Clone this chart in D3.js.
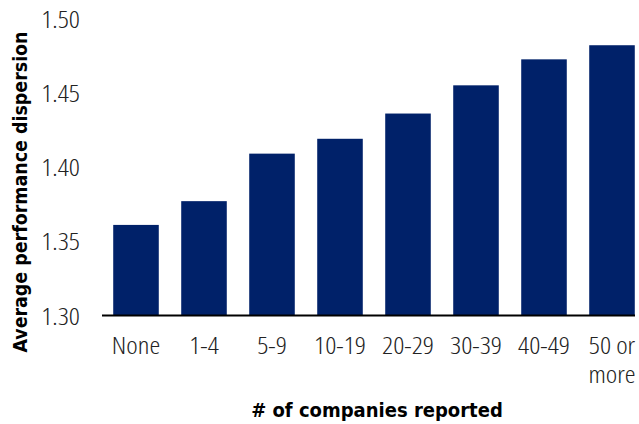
<!DOCTYPE html>
<html>
<head>
<meta charset="utf-8">
<script src="https://cdn.jsdelivr.net/npm/d3@7/dist/d3.min.js"></script>
<style>
  html, body { margin: 0; padding: 0; background: #fff; }
  svg { display: block; }
  .tick-label { font-family: "Open Sans", sans-serif; font-stretch: 75%; font-weight: 300; font-size: 24px; fill: #222; }
  .axis-title { font-family: "DejaVu Sans Condensed", "DejaVu Sans", sans-serif; font-size: 20px; font-weight: bold; fill: #000; }
</style>
</head>
<body>
<svg id="chart" width="639" height="424"></svg>
<script>
// Number of companies reported, grouped into buckets
const categories = ["None", "1-4", "5-9", "10-19", "20-29", "30-39", "40-49", "50 or more"];
const categoryLines = [["None"], ["1-4"], ["5-9"], ["10-19"], ["20-29"], ["30-39"], ["40-49"], ["50 or", "more"]];
// Average performance dispersion per bucket
const dispersion = [1.361, 1.377, 1.409, 1.419, 1.436, 1.455, 1.4725, 1.482];
const yTicks = [1.30, 1.35, 1.40, 1.45, 1.50];

const svg = d3.select("#chart");
const plotLeft = 102, plotRight = 646, plotTop = 18.5, plotBottom = 315.5;
const labelWiden = 1.14; // horizontal stretch for the light condensed labels

const x = d3.scaleBand()
  .domain(categories)
  .range([plotLeft, plotRight])
  .paddingInner(0.33)
  .paddingOuter(0.165);

const y = d3.scaleLinear()
  .domain([1.30, 1.50])
  .range([plotBottom, plotTop]);

// Bars
svg.append("g")
  .selectAll("rect")
  .data(categories)
  .join("rect")
  .attr("x", d => x(d))
  .attr("width", x.bandwidth())
  .attr("y", (d, i) => y(dispersion[i]))
  .attr("height", (d, i) => y(1.30) - y(dispersion[i]))
  .attr("fill", "#002169");

// Y axis tick labels (no axis line)
const yAxis = svg.append("g")
  .attr("transform", `translate(${plotLeft},0)`)
  .call(d3.axisLeft(y).tickValues(yTicks).tickFormat(d3.format(".2f")).tickSize(0));
yAxis.select(".domain").remove();
yAxis.selectAll("text")
  .attr("class", "tick-label")
  .attr("x", 0)
  .attr("dy", "0.36em")
  .attr("transform", `translate(-22,0) scale(${labelWiden},1)`);

// X axis baseline and category labels
const xAxis = svg.append("g")
  .attr("transform", `translate(0,${plotBottom})`)
  .call(d3.axisBottom(x).tickSize(0).tickFormat(""));
xAxis.select(".domain").remove();
svg.append("line")
  .attr("x1", plotLeft).attr("x2", 635)
  .attr("y1", plotBottom).attr("y2", plotBottom)
  .attr("stroke", "#000").attr("stroke-width", 2);

xAxis.selectAll(".tick").each(function(d, i) {
  const tick = d3.select(this);
  categoryLines[i].forEach((line, j) => {
    tick.append("text")
      .attr("class", "tick-label")
      .attr("text-anchor", "middle")
      .attr("transform", `translate(0,${38 + j * 29}) scale(${labelWiden},1)`)
      .text(line);
  });
});

// Axis titles
svg.append("text")
  .attr("class", "axis-title")
  .attr("text-anchor", "middle")
  .style("font-size", "19.4px")
  .attr("transform", `translate(27,192) rotate(-90)`)
  .text("Average performance dispersion");

svg.append("text")
  .attr("class", "axis-title")
  .attr("text-anchor", "middle")
  .attr("x", 377)
  .attr("y", 417)
  .text("# of companies reported");
</script>
</body>
</html>
